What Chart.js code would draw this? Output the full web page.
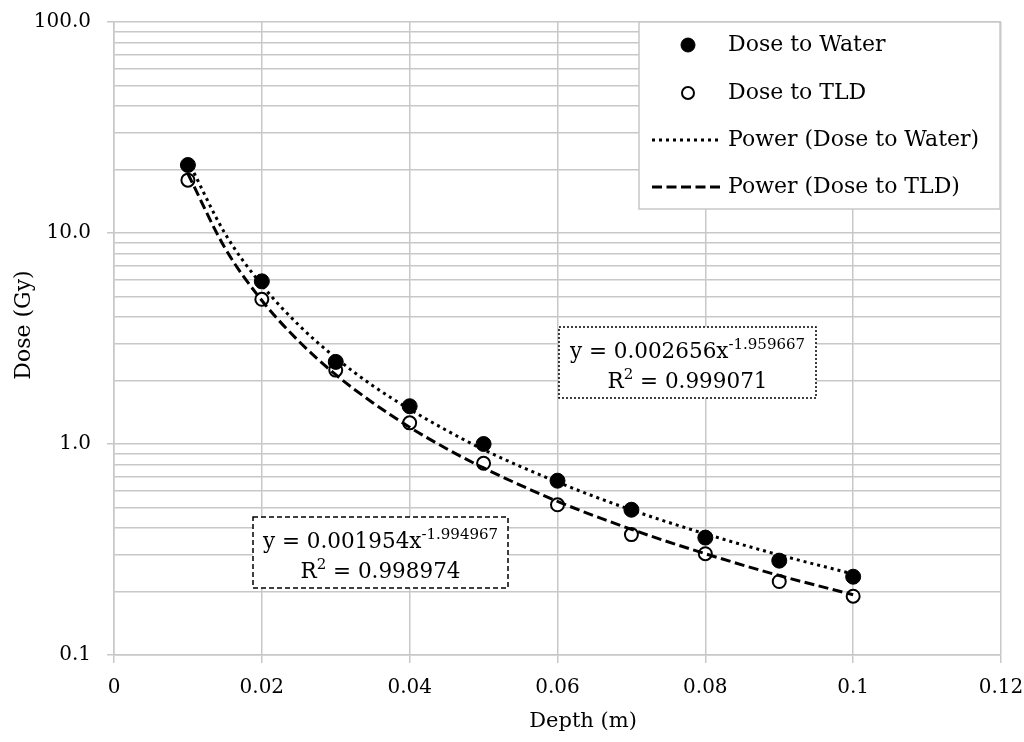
<!DOCTYPE html>
<html>
<head>
<meta charset="utf-8">
<title>Dose vs Depth</title>
<script src="https://cdn.jsdelivr.net/npm/chart.js@4.4.1/dist/chart.umd.min.js"></script>
<style>
  html, body { margin: 0; padding: 0; background: #fff; }
  #wrap { width: 1024px; height: 742px; }
</style>
</head>
<body>
<div id="wrap"><canvas id="chart"></canvas></div>
<script>
"use strict";

// measured points
var depth = [0.01, 0.02, 0.03, 0.04, 0.05, 0.06, 0.07, 0.08, 0.09, 0.1];
var doseWater = [21.0, 5.9, 2.45, 1.51, 1.0, 0.67, 0.488, 0.36, 0.28, 0.235];
var doseTLD = [17.8, 4.85, 2.24, 1.26, 0.81, 0.515, 0.372, 0.302, 0.223, 0.19];

// power trendlines as drawn
var trendDepth = [0.01, 0.015, 0.02, 0.025, 0.03, 0.035, 0.04, 0.045, 0.05, 0.06, 0.07, 0.08, 0.09, 0.1];
var trendWater = [22.06, 9.97, 5.67, 3.66, 2.56, 1.89, 1.46, 1.16, 0.94, 0.66, 0.487, 0.375, 0.298, 0.242];
var trendTLD = [19.09, 8.50, 4.79, 3.07, 2.13, 1.57, 1.20, 0.95, 0.77, 0.535, 0.394, 0.302, 0.238, 0.193];

// axis ticks
var xTicks = [0, 0.02, 0.04, 0.06, 0.08, 0.1, 0.12];
var yTicks = [0.1, 0.2, 0.3, 0.4, 0.5, 0.6, 0.7, 0.8, 0.9,
	1, 2, 3, 4, 5, 6, 7, 8, 9,
	10, 20, 30, 40, 50, 60, 70, 80, 90, 100];
var yMajor = [0.1, 1, 10, 100];

// fit labels
var fitWater = ['y = 0.002656x', '-1.959667', '0.999071'];
var fitTLD = ['y = 0.001954x', '-1.994967', '0.998974'];

var FONT = "'DejaVu Serif', 'Liberation Serif', serif";
var GRID = '#c8c8c8';

Chart.defaults.font.family = FONT;
Chart.defaults.color = '#000';

function isMajor(v) {
	return yMajor.some(function (m) { return Math.abs(m - v) < 1e-9; });
}

function pts(xs, ys) {
	return xs.map(function (x, i) { return {x: x, y: ys[i]}; });
}

function drawFitBox(ctx, box, fit) {
	ctx.save();
	ctx.fillStyle = '#fff';
	ctx.fillRect(box.x, box.y, box.w, box.h);
	ctx.strokeStyle = '#000';
	ctx.lineWidth = 1.5;
	ctx.setLineDash(box.dash);
	ctx.strokeRect(box.x, box.y, box.w, box.h);
	ctx.setLineDash([]);
	ctx.fillStyle = '#000';
	ctx.textBaseline = 'alphabetic';
	ctx.textAlign = 'left';

	var big = '21.5px ' + FONT, small = '15px ' + FONT;
	var cx = box.x + box.w / 2;

	// line 1: y = a x^b
	ctx.font = big;
	var w1 = ctx.measureText(fit[0]).width;
	ctx.font = small;
	var w2 = ctx.measureText(fit[1]).width;
	var x0 = cx - (w1 + w2) / 2;
	var base1 = box.y + 31;
	ctx.font = big;
	ctx.fillText(fit[0], x0, base1);
	ctx.font = small;
	ctx.fillText(fit[1], x0 + w1, base1 - 9);

	// line 2: R^2 = ...
	var base2 = box.y + 61;
	ctx.font = big;
	var wr = ctx.measureText('R').width;
	var wv = ctx.measureText(' = ' + fit[2]).width;
	ctx.font = small;
	var ws = ctx.measureText('2').width;
	x0 = cx - (wr + ws + wv) / 2;
	ctx.font = big;
	ctx.fillText('R', x0, base2);
	ctx.font = small;
	ctx.fillText('2', x0 + wr, base2 - 9);
	ctx.font = big;
	ctx.fillText(' = ' + fit[2], x0 + wr + ws, base2);
	ctx.restore();
}

var extras = {
	id: 'extras',
	afterDraw: function (chart) {
		var ctx = chart.ctx;
		var sets = chart.data.datasets;
		ctx.save();

		// axis titles
		ctx.fillStyle = '#000';
		ctx.textAlign = 'center';
		ctx.textBaseline = 'middle';
		ctx.font = '21px ' + FONT;
		ctx.fillText('Depth (m)', 583, 722);
		ctx.save();
		ctx.translate(24, 325);
		ctx.rotate(-Math.PI / 2);
		ctx.font = '22px ' + FONT;
		ctx.fillText('Dose (Gy)', 0, 0);
		ctx.restore();

		// trendline labels
		drawFitBox(ctx, {x: 559, y: 327, w: 257, h: 71, dash: [2, 2]}, fitWater);
		drawFitBox(ctx, {x: 253, y: 517, w: 255, h: 71, dash: [5, 3]}, fitTLD);

		// legend
		var lx = 639, ly = 22, lw = 361, lh = 187;
		ctx.fillStyle = '#fff';
		ctx.fillRect(lx, ly, lw, lh);
		ctx.strokeStyle = GRID;
		ctx.lineWidth = 1.5;
		ctx.strokeRect(lx, ly, lw, lh);
		var rows = [45, 93, 140, 187];
		ctx.font = '22px ' + FONT;
		ctx.textAlign = 'left';
		ctx.textBaseline = 'middle';
		sets.forEach(function (ds, i) {
			var y = rows[i];
			ctx.strokeStyle = '#000';
			if (ds.showLine) {
				ctx.lineWidth = ds.borderWidth;
				ctx.setLineDash(ds.borderDash);
				ctx.beginPath();
				ctx.moveTo(652, y);
				ctx.lineTo(722, y);
				ctx.stroke();
				ctx.setLineDash([]);
			} else {
				ctx.beginPath();
				ctx.arc(688, y, ds.pointRadius - 0.5, 0, Math.PI * 2);
				ctx.fillStyle = ds.pointBackgroundColor;
				ctx.fill();
				ctx.lineWidth = ds.pointBorderWidth;
				ctx.stroke();
			}
			ctx.fillStyle = '#000';
			ctx.fillText(ds.label, 728, y);
		});
		ctx.restore();
	}
};

var ctx = document.getElementById('chart').getContext('2d');
var chart = new Chart(ctx, {
	type: 'scatter',
	data: {
		datasets: [{
			label: 'Dose to Water',
			data: pts(depth, doseWater),
			showLine: false,
			pointRadius: 7.5,
			pointBorderWidth: 1,
			pointBackgroundColor: '#000',
			pointBorderColor: '#000',
			order: 1
		}, {
			label: 'Dose to TLD',
			data: pts(depth, doseTLD),
			showLine: false,
			pointRadius: 6.5,
			pointBorderWidth: 2,
			pointBackgroundColor: '#fff',
			pointBorderColor: '#000',
			order: 1
		}, {
			label: 'Power (Dose to Water)',
			data: pts(trendDepth, trendWater),
			showLine: true,
			borderColor: '#000',
			borderWidth: 3,
			borderDash: [3, 4],
			pointRadius: 0,
			cubicInterpolationMode: 'monotone',
			order: 0
		}, {
			label: 'Power (Dose to TLD)',
			data: pts(trendDepth, trendTLD),
			showLine: true,
			borderColor: '#000',
			borderWidth: 3,
			borderDash: [10, 4.5],
			pointRadius: 0,
			cubicInterpolationMode: 'monotone',
			order: 0
		}]
	},
	options: {
		responsive: true,
		maintainAspectRatio: false,
		animation: false,
		layout: {padding: {top: 22, right: 23, left: 0, bottom: 0}},
		plugins: {
			legend: {display: false},
			tooltip: {enabled: false}
		},
		scales: {
			x: {
				type: 'linear',
				min: 0,
				max: 0.12,
				afterBuildTicks: function (s) {
					s.ticks = xTicks.map(function (v) { return {value: v}; });
				},
				afterFit: function (s) {
					s.height = 87;
					s.paddingLeft = 0;
					s.paddingRight = 0;
				},
				ticks: {
					font: {size: 20},
					color: '#000',
					padding: 13,
					maxRotation: 0,
					autoSkip: false,
					callback: function (v) { return String(+v.toFixed(2)); }
				},
				grid: {color: GRID, lineWidth: 1.5, tickLength: 8, tickColor: GRID},
				border: {color: GRID, width: 1.5}
			},
			y: {
				type: 'logarithmic',
				min: 0.1,
				max: 100,
				afterBuildTicks: function (s) {
					s.ticks = yTicks.map(function (v) { return {value: v}; });
				},
				afterFit: function (s) {
					s.width = 114;
					s.paddingTop = 0;
					s.paddingBottom = 0;
				},
				ticks: {
					font: {size: 20},
					color: '#000',
					padding: 16,
					autoSkip: false,
					callback: function (v) { return isMajor(v) ? v.toFixed(1) : ''; }
				},
				grid: {
					color: GRID,
					lineWidth: 1.5,
					tickLength: 7,
					tickColor: function (c) {
						return (c.tick && isMajor(c.tick.value)) ? GRID : 'rgba(0,0,0,0)';
					}
				},
				border: {color: GRID, width: 1.5}
			}
		}
	},
	plugins: [extras]
});
</script>
</body>
</html>
